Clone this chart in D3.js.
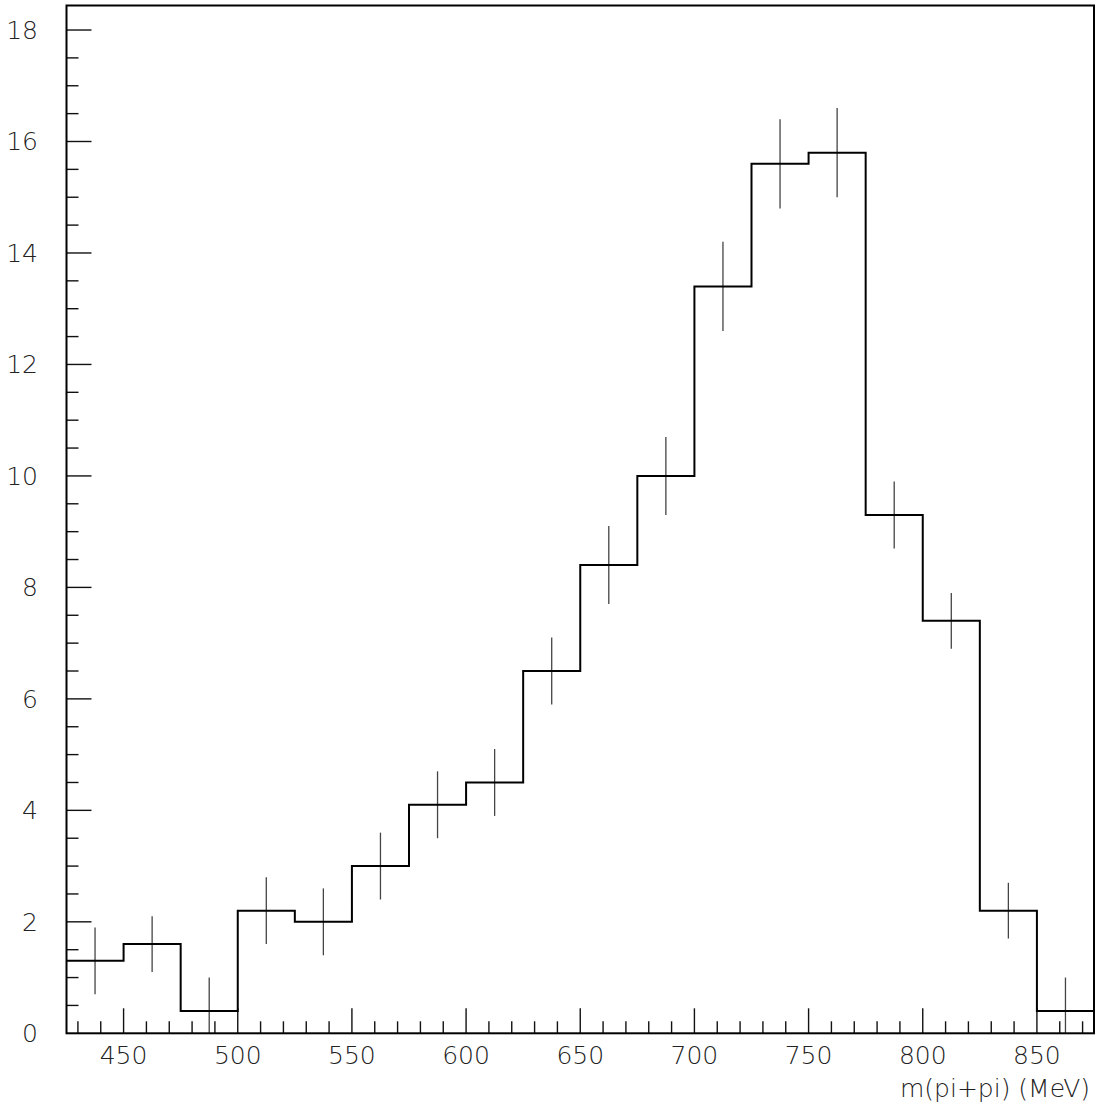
<!DOCTYPE html>
<html>
  <head>
    <meta charset="utf-8"/>
    <style>
    body {
      margin: 0;
      background: #fff;
    }
    text {
      font-family: "DejaVu Sans", sans-serif;
      font-weight: 200;
      fill: #222;
    }
    </style>
  </head>
  <body>
    <script src="https://d3js.org/d3.v7.min.js"></script>
    <script>
    var width = 1099, height = 1115;

    // bin lower edges (MeV), bin width 25
    var binEdges = [425, 450, 475, 500, 525, 550, 575, 600, 625, 650, 675, 700, 725, 750, 775, 800, 825, 850];
    var counts = [1.3, 1.6, 0.4, 2.2, 2.0, 3.0, 4.1, 4.5, 6.5, 8.4, 10.0, 13.4, 15.6, 15.8, 9.3, 7.4, 2.2, 0.4];
    var errors = [0.6, 0.5, 0.6, 0.6, 0.6, 0.6, 0.6, 0.6, 0.6, 0.7, 0.7, 0.8, 0.8, 0.8, 0.6, 0.5, 0.5, 0.6];
    var binWidth = 25;

    var xTicks = [450, 500, 550, 600, 650, 700, 750, 800, 850];
    var yTicks = [0, 2, 4, 6, 8, 10, 12, 14, 16, 18];
    var xTitle = "m(pi+pi) (MeV)";

    // frame edges
    var frameL = 66.5, frameR = 1094, frameT = 5.5, frameB = 1033.3;

    var x = d3.scaleLinear().domain([425, 875]).range([frameL, frameR]);
    var y = d3.scaleLinear().domain([0, 18.44]).range([frameB, frameT]);

    var svg = d3.select("body").append("svg")
        .attr("width", width)
        .attr("height", height);

    // minor / major ticks
    var ticks = svg.append("g")
        .attr("stroke", "#111")
        .attr("stroke-width", 1.4);

    d3.range(430, 875, 10).forEach(function(v){
      var major = v % 50 === 0;
      ticks.append("line")
          .attr("x1", x(v)).attr("x2", x(v))
          .attr("y1", frameB).attr("y2", frameB - (major ? 25 : 12));
    });

    d3.range(0.5, 18.44, 0.5).forEach(function(v){
      var major = v % 2 === 0;
      ticks.append("line")
          .attr("x1", frameL).attr("x2", frameL + (major ? 25 : 12))
          .attr("y1", y(v)).attr("y2", y(v));
    });

    // tick labels
    svg.append("g").selectAll("text")
        .data(xTicks)
      .enter().append("text")
        .attr("x", function(d){ return x(d); })
        .attr("y", 1064)
        .attr("text-anchor", "middle")
        .attr("font-size", 25)
        .text(function(d){ return d; });

    svg.append("g").selectAll("text")
        .data(yTicks)
      .enter().append("text")
        .attr("x", 38)
        .attr("y", function(d){ return y(d); })
        .attr("dy", "0.36em")
        .attr("text-anchor", "end")
        .attr("font-size", 25)
        .text(function(d){ return d; });

    svg.append("text")
        .attr("x", 1090)
        .attr("y", 1097)
        .attr("text-anchor", "end")
        .attr("font-size", 25)
        .text(xTitle);

    // error bars
    svg.append("g").selectAll("line")
        .data(counts)
      .enter().append("line")
        .attr("x1", function(d, i){ return x(binEdges[i] + binWidth / 2); })
        .attr("x2", function(d, i){ return x(binEdges[i] + binWidth / 2); })
        .attr("y1", function(d, i){ return y(Math.max(0, d - errors[i])); })
        .attr("y2", function(d, i){ return y(d + errors[i]); })
        .attr("stroke", "#444")
        .attr("stroke-width", 1.3);

    // histogram outline
    var steps = binEdges.map(function(e, i){ return [e, counts[i]]; });
    steps.push([875, counts[counts.length - 1]]);

    var line = d3.line()
        .x(function(d){ return x(d[0]); })
        .y(function(d){ return y(d[1]); })
        .curve(d3.curveStepAfter);

    svg.append("path")
        .datum(steps)
        .attr("d", line)
        .attr("fill", "none")
        .attr("stroke", "#000")
        .attr("stroke-width", 2);

    // frame
    svg.append("rect")
        .attr("x", frameL).attr("y", frameT)
        .attr("width", frameR - frameL).attr("height", frameB - frameT)
        .attr("fill", "none")
        .attr("stroke", "#000")
        .attr("stroke-width", 2);
    </script>
  </body>
</html>
